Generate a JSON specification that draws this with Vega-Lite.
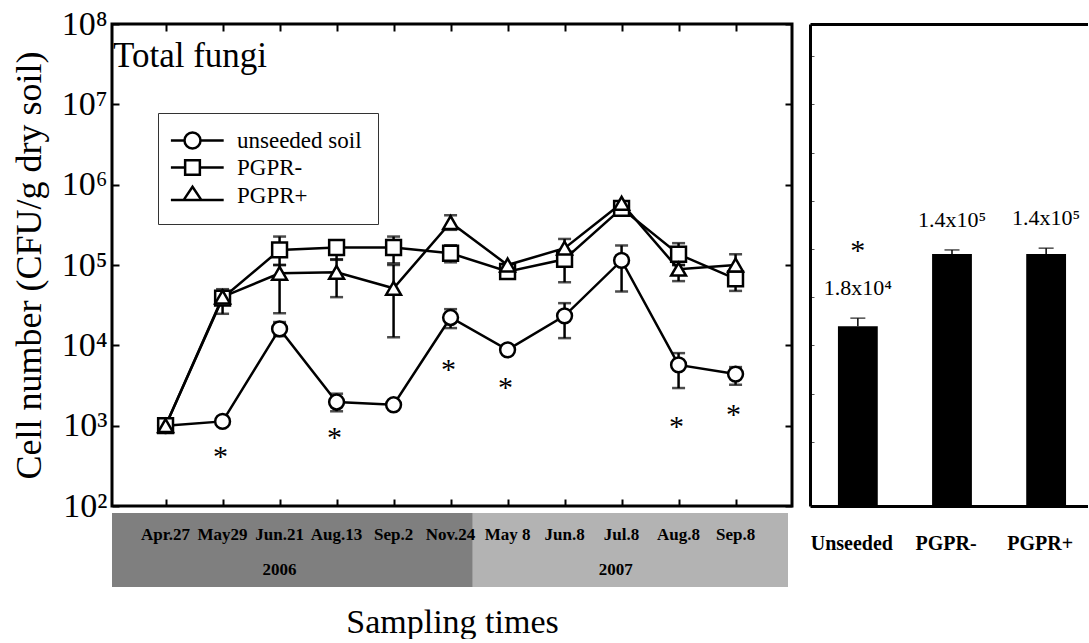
{
  "$schema": "https://vega.github.io/schema/vega-lite/v6.json",
  "padding": {"left": 9, "top": 5, "right": 0, "bottom": 0},
  "background": "white",
  "bounds": "flush",
  "align": "each",
  "columns": 2,
  "spacing": {"row": 7, "column": 18},
  "config": {
    "font": "Liberation Serif",
    "view": {"stroke": null},
    "axis": {"labelFont": "Liberation Serif", "titleFont": "Liberation Serif", "labelColor": "black", "titleColor": "black", "tickColor": "black", "domainColor": "black", "grid": false}
  },
  "datasets": {
    "main": [
      {"series": "unseeded soil", "idx": 0, "value": 1000},
      {"series": "unseeded soil", "idx": 1, "value": 1130},
      {"series": "unseeded soil", "idx": 2, "value": 16000, "lo": 13000, "hi": 19500},
      {"series": "unseeded soil", "idx": 3, "value": 1970, "lo": 1510, "hi": 2500},
      {"series": "unseeded soil", "idx": 4, "value": 1820},
      {"series": "unseeded soil", "idx": 5, "value": 22200, "lo": 16400, "hi": 28200},
      {"series": "unseeded soil", "idx": 6, "value": 8800},
      {"series": "unseeded soil", "idx": 7, "value": 23300, "lo": 12300, "hi": 33500},
      {"series": "unseeded soil", "idx": 8, "value": 114000, "lo": 46800, "hi": 175000},
      {"series": "unseeded soil", "idx": 9, "value": 5700, "lo": 2940, "hi": 8000},
      {"series": "unseeded soil", "idx": 10, "value": 4390, "lo": 3230, "hi": 5360},
      {"series": "PGPR-", "idx": 0, "value": 1000},
      {"series": "PGPR-", "idx": 1, "value": 38700, "lo": 24700, "hi": 50000},
      {"series": "PGPR-", "idx": 2, "value": 154000, "lo": 100000, "hi": 226000},
      {"series": "PGPR-", "idx": 3, "value": 165000, "lo": 116000, "hi": 190000},
      {"series": "PGPR-", "idx": 4, "value": 165000, "lo": 105000, "hi": 226000},
      {"series": "PGPR-", "idx": 5, "value": 140000, "lo": 108000, "hi": 176000},
      {"series": "PGPR-", "idx": 6, "value": 83000},
      {"series": "PGPR-", "idx": 7, "value": 118000, "lo": 61000, "hi": 140000},
      {"series": "PGPR-", "idx": 8, "value": 508000},
      {"series": "PGPR-", "idx": 9, "value": 136000, "lo": 100000, "hi": 187000},
      {"series": "PGPR-", "idx": 10, "value": 67100, "lo": 47600, "hi": 83000},
      {"series": "PGPR+", "idx": 0, "value": 1000},
      {"series": "PGPR+", "idx": 1, "value": 40000},
      {"series": "PGPR+", "idx": 2, "value": 79000, "lo": 25100, "hi": 100000},
      {"series": "PGPR+", "idx": 3, "value": 81000, "lo": 39800, "hi": 118000},
      {"series": "PGPR+", "idx": 4, "value": 51400, "lo": 12600, "hi": 100000},
      {"series": "PGPR+", "idx": 5, "value": 338000, "lo": 274000, "hi": 416000},
      {"series": "PGPR+", "idx": 6, "value": 100000},
      {"series": "PGPR+", "idx": 7, "value": 162000, "lo": 123000, "hi": 211000},
      {"series": "PGPR+", "idx": 8, "value": 587000},
      {"series": "PGPR+", "idx": 9, "value": 88700, "lo": 63000, "hi": 100000},
      {"series": "PGPR+", "idx": 10, "value": 100000, "lo": 80000, "hi": 136000}
    ],
    "stars": [
      {"idx": 1, "value": 435, "mark": "*"},
      {"idx": 3, "value": 736, "mark": "*"},
      {"idx": 5, "value": 5200, "mark": "*"},
      {"idx": 6, "value": 3110, "mark": "*"},
      {"idx": 9, "value": 1025, "mark": "*"},
      {"idx": 10, "value": 1435, "mark": "*"}
    ],
    "panel": [
      {"label": "Total fungi"}
    ],
    "band": [
      {"year": "2006", "start": -0.94, "end": 5.39, "mid": 2.0, "row": "year"},
      {"year": "2007", "start": 5.39, "end": 10.92, "mid": 7.9, "row": "year"}
    ],
    "dates": [
      {"idx": 0, "date": "Apr.27", "row": "date"},
      {"idx": 1, "date": "May29", "row": "date"},
      {"idx": 2, "date": "Jun.21", "row": "date"},
      {"idx": 3, "date": "Aug.13", "row": "date"},
      {"idx": 4, "date": "Sep.2", "row": "date"},
      {"idx": 5, "date": "Nov.24", "row": "date"},
      {"idx": 6, "date": "May 8", "row": "date"},
      {"idx": 7, "date": "Jun.8", "row": "date"},
      {"idx": 8, "date": "Jul.8", "row": "date"},
      {"idx": 9, "date": "Aug.8", "row": "date"},
      {"idx": 10, "date": "Sep.8", "row": "date"}
    ],
    "bars": [
      {"group": "Unseeded", "value": 17300, "hi": 21800, "label": "1.8x10⁴", "star": "*"},
      {"group": "PGPR-", "value": 137000, "hi": 154000, "label": "1.4x10⁵", "star": ""},
      {"group": "PGPR+", "value": 137000, "hi": 162000, "label": "1.4x10⁵", "star": ""}
    ]
  },
  "concat": [
    {
      "width": 680,
      "height": 482,
      "view": {"stroke": "black", "strokeWidth": 3},
      "data": {"name": "main"},
      "resolve": {"axis": {"x": "independent", "y": "independent"}, "scale": {"shape": "independent"}},
      "layer": [
        {
          "transform": [{"filter": "isValid(datum.lo)"}],
          "mark": {"type": "rule", "strokeWidth": 2.5, "color": "black"},
          "encoding": {
            "x": {"field": "idx", "type": "quantitative", "scale": {"domain": [-0.94, 10.99], "nice": false, "zero": false},
                  "axis": {"orient": "bottom", "values": [0,1,2,3,4,5,6,7,8,9,10], "labels": false, "tickSize": -7, "tickWidth": 2, "domain": false, "title": null}},
            "y": {"field": "lo", "type": "quantitative", "scale": {"type": "log", "domain": [100, 100000000], "nice": false},
                  "axis": {"orient": "left", "values": [100,1000,10000,100000,1000000,10000000,100000000],
                           "labelExpr": "'10' + ['⁰','¹','²','³','⁴','⁵','⁶','⁷','⁸'][round(log(datum.value)/LN10)]",
                           "labelFontSize": 34, "tickSize": -7, "tickWidth": 2, "labelPadding": 12, "domain": false,
                           "title": "Cell number (CFU/g dry soil)", "titleFontSize": 36, "titleFontWeight": "normal", "titlePadding": 13}},
            "y2": {"field": "hi"}
          }
        },
        {
          "transform": [{"filter": "isValid(datum.lo)"}],
          "mark": {"type": "tick", "orient": "horizontal", "size": 13, "thickness": 2.5, "color": "black"},
          "encoding": {
            "x": {"field": "idx", "type": "quantitative",
                  "axis": {"orient": "top", "values": [0,1,2,3,4,5,6,7,8,9,10], "labels": false, "tickSize": -7, "tickWidth": 2, "domain": false, "title": null}},
            "y": {"field": "lo", "type": "quantitative",
                  "axis": {"orient": "right", "values": [100,1000,10000,100000,1000000,10000000,100000000], "labels": false, "tickSize": -7, "tickWidth": 2, "domain": false, "title": null}}
          }
        },
        {
          "transform": [{"filter": "isValid(datum.hi)"}],
          "mark": {"type": "tick", "orient": "horizontal", "size": 13, "thickness": 2.5, "color": "black"},
          "encoding": {
            "x": {"field": "idx", "type": "quantitative", "axis": null},
            "y": {"field": "hi", "type": "quantitative", "axis": null}
          }
        },
        {
          "mark": {"type": "line", "color": "black", "strokeWidth": 2.5},
          "encoding": {
            "x": {"field": "idx", "type": "quantitative", "axis": null},
            "y": {"field": "value", "type": "quantitative", "axis": null},
            "detail": {"field": "series", "type": "nominal"}
          }
        },
        {
          "mark": {"type": "point", "filled": true, "fill": "white", "stroke": "black", "strokeWidth": 2.5, "size": 220, "opacity": 1},
          "encoding": {
            "x": {"field": "idx", "type": "quantitative", "axis": null},
            "y": {"field": "value", "type": "quantitative", "axis": null},
            "shape": {"field": "series", "type": "nominal", "scale": {"domain": ["unseeded soil", "PGPR-", "PGPR+"], "range": ["circle", "square", "triangle-up"]}, "legend": null}
          }
        },
        {
          "data": {"name": "stars"},
          "mark": {"type": "text", "fontSize": 30, "baseline": "alphabetic", "dy": 11, "dx": -2, "color": "black", "font": "Liberation Serif"},
          "encoding": {
            "x": {"field": "idx", "type": "quantitative", "axis": null},
            "y": {"field": "value", "type": "quantitative", "axis": null},
            "text": {"field": "mark"}
          }
        },
        {
          "data": {"name": "panel"},
          "mark": {"type": "text", "align": "left", "baseline": "top", "fontSize": 35, "dx": 1, "dy": 15, "color": "black", "font": "Liberation Serif"},
          "encoding": {
            "x": {"datum": -0.94, "type": "quantitative", "axis": null},
            "y": {"datum": 100000000, "type": "quantitative", "axis": null},
            "text": {"field": "label"}
          }
        },
        {
          "mark": {"type": "point", "opacity": 0},
          "encoding": {
            "x": {"field": "idx", "type": "quantitative", "axis": null},
            "y": {"field": "value", "type": "quantitative", "axis": null},
            "shape": {"field": "series", "type": "nominal",
                      "scale": {"domain": ["unseeded soil", "PGPR-", "PGPR+"],
                                "range": ["M-2.7,0L-1,0M1,0L3.9,0M1,0A1,1,0,1,1,-1,0A1,1,0,1,1,1,0Z",
                                          "M-2.7,0L-0.92,0M0.92,0L3.9,0M-0.92,-0.92L0.92,-0.92L0.92,0.92L-0.92,0.92Z",
                                          "M-2.7,0.55L-1.1,0.55M1.1,0.55L3.9,0.55M0,-1.1L1.1,0.55L-1.1,0.55Z"]},
                      "legend": {"orient": "none", "legendX": 46, "legendY": 89, "title": null, "strokeColor": "#333333", "fillColor": "white",
                                 "padding": 16, "labelFontSize": 23, "labelFont": "Liberation Serif", "labelColor": "black",
                                 "symbolSize": 256, "symbolFillColor": "white", "symbolStrokeColor": "black", "symbolStrokeWidth": 2.5,
                                 "symbolOpacity": 1, "symbolOffset": 7, "labelOffset": 33, "rowPadding": 1}}
          }
        }
      ]
    },
    {
      "width": 278,
      "height": 482,
      "data": {"name": "bars"},
      "resolve": {"axis": {"x": "independent"}},
      "layer": [
        {
          "mark": {"type": "bar", "color": "black"},
          "encoding": {
            "x": {"field": "group", "type": "nominal", "sort": null,
                  "scale": {"type": "band", "paddingInner": 0.577, "paddingOuter": 0.265, "align": 0.56},
                  "axis": {"orient": "bottom", "title": null, "labelAngle": 0, "labelFontSize": 20, "labelFontWeight": "bold", "ticks": false,
                           "domain": true, "domainWidth": 3, "labelPadding": 37, "labelBaseline": "middle", "labelOffset": -6}},
            "y": {"field": "value", "type": "quantitative", "scale": {"type": "log", "domain": [100, 100000000], "nice": false},
                  "axis": {"orient": "left", "labels": false, "title": null, "domain": true, "domainWidth": 3, "tickSize": -4, "tickWidth": 1, "tickColor": "#555555",
                           "values": [631, 2512, 10000, 39811, 158489, 630957, 2511886, 10000000, 39810717]}},
            "y2": {"datum": 100}
          }
        },
        {
          "mark": {"type": "rule", "strokeWidth": 1.5, "color": "black"},
          "encoding": {
            "x": {"field": "group", "type": "nominal", "sort": null,
                  "axis": {"orient": "top", "labels": false, "ticks": false, "domain": true, "domainWidth": 3, "title": null}},
            "y": {"field": "value", "type": "quantitative"},
            "y2": {"field": "hi"}
          }
        },
        {
          "mark": {"type": "tick", "orient": "horizontal", "size": 15, "thickness": 1.5, "color": "black"},
          "encoding": {
            "x": {"field": "group", "type": "nominal", "sort": null, "axis": null},
            "y": {"field": "hi", "type": "quantitative"}
          }
        },
        {
          "mark": {"type": "text", "fontSize": 22, "dy": -30, "baseline": "middle", "color": "black", "font": "Liberation Serif"},
          "encoding": {
            "x": {"field": "group", "type": "nominal", "sort": null, "axis": null},
            "y": {"field": "hi", "type": "quantitative"},
            "text": {"field": "label"}
          }
        },
        {
          "mark": {"type": "text", "fontSize": 30, "dy": -58, "baseline": "alphabetic", "color": "black", "font": "Liberation Serif"},
          "encoding": {
            "x": {"field": "group", "type": "nominal", "sort": null, "axis": null},
            "y": {"field": "hi", "type": "quantitative"},
            "text": {"field": "star"}
          }
        }
      ]
    },
    {
      "width": 680,
      "height": 74,
      "layer": [
        {
          "data": {"name": "band"},
          "mark": {"type": "rect"},
          "encoding": {
            "x": {"field": "start", "type": "quantitative", "scale": {"domain": [-0.94, 10.99], "nice": false, "zero": false},
                  "axis": {"title": "Sampling times", "labels": false, "ticks": false, "domain": false, "titleFontSize": 34, "titleFontWeight": "normal", "titlePadding": 18}},
            "x2": {"field": "end"},
            "color": {"field": "year", "type": "nominal", "scale": {"domain": ["2006", "2007"], "range": ["#7f7f7f", "#b3b3b3"]}, "legend": null}
          }
        },
        {
          "data": {"name": "dates"},
          "mark": {"type": "text", "fontWeight": "bold", "fontSize": 17, "font": "Liberation Serif", "color": "black", "baseline": "middle"},
          "encoding": {
            "x": {"field": "idx", "type": "quantitative"},
            "y": {"field": "row", "type": "nominal", "scale": {"type": "point", "domain": ["date", "year"], "range": [22, 57], "padding": 0}, "axis": null},
            "text": {"field": "date"}
          }
        },
        {
          "data": {"name": "band"},
          "mark": {"type": "text", "fontWeight": "bold", "fontSize": 17, "font": "Liberation Serif", "color": "black", "baseline": "middle"},
          "encoding": {
            "x": {"field": "mid", "type": "quantitative"},
            "y": {"field": "row", "type": "nominal", "axis": null},
            "text": {"field": "year"}
          }
        }
      ]
    }
  ]
}
